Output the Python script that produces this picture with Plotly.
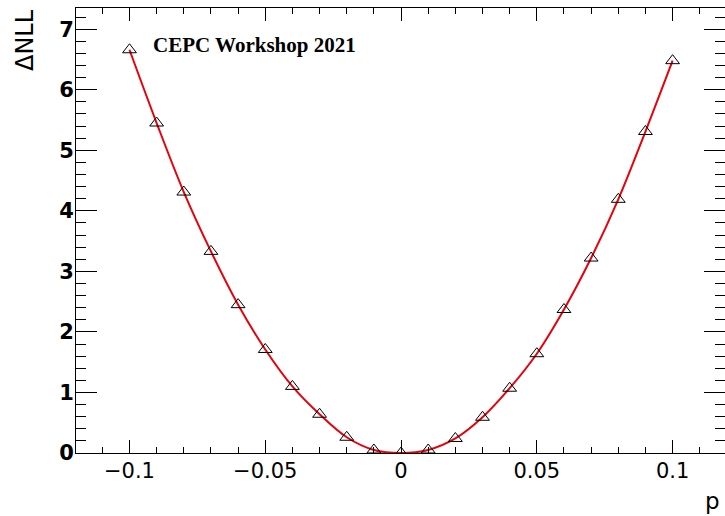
import plotly.graph_objects as go

# Data
p_values = [-0.10, -0.09, -0.08, -0.07, -0.06, -0.05, -0.04, -0.03, -0.02, -0.01,
            0.00, 0.01, 0.02, 0.03, 0.04, 0.05, 0.06, 0.07, 0.08, 0.09, 0.10]
dnll_values = [6.66, 5.45, 4.31, 3.33, 2.45, 1.71, 1.10, 0.64, 0.26, 0.05,
               0.00, 0.05, 0.24, 0.59, 1.07, 1.64, 2.37, 3.22, 4.19, 5.31, 6.48]

x_range = [-0.1197, 0.1193]
y_range = [0, 7.35]

fig = go.Figure()

# red fit curve (smooth line through the scan points)
fig.add_trace(go.Scatter(
    x=p_values, y=dnll_values, mode="lines",
    line=dict(color="#e8000b", width=2, shape="spline", smoothing=1.0),
    hoverinfo="skip", showlegend=False,
))

# scan points as open triangles
fig.add_trace(go.Scatter(
    x=p_values, y=dnll_values, mode="markers",
    marker=dict(symbol="triangle-up-open", size=12, color="black",
                line=dict(width=1, color="black")),
    showlegend=False,
))

fig.update_layout(
    width=725, height=516,
    margin=dict(l=76, r=0, t=8, b=63),
    paper_bgcolor="white", plot_bgcolor="white",
    xaxis=dict(
        range=x_range, tick0=0, dtick=0.05,
        ticks="inside", ticklen=13, tickwidth=1, tickcolor="black",
        showline=True, linecolor="black", linewidth=1, mirror="ticks",
        showgrid=False, zeroline=False,
        tickfont=dict(family="DejaVu Sans", size=21, color="black"),
        minor=dict(tick0=0, dtick=0.01, ticks="inside", ticklen=6,
                   tickwidth=1, tickcolor="black", showgrid=False),
        ticklabelstandoff=-1,
    ),
    yaxis=dict(
        range=y_range, tick0=0, dtick=1,
        ticks="inside", ticklen=21, tickwidth=1, tickcolor="black",
        showline=True, linecolor="black", linewidth=1, mirror="ticks",
        showgrid=False, zeroline=False,
        tickfont=dict(family="DejaVu Sans", size=21, color="black", weight="bold"),
        minor=dict(tick0=0, dtick=0.2, ticks="inside", ticklen=10,
                   tickwidth=1, tickcolor="black", showgrid=False),
        ticklabelstandoff=-3,
    ),
    annotations=[
        dict(text="CEPC Workshop 2021", xref="paper", yref="paper",
             x=(151 - 76) / 649, y=(453 - 31) / 445, xanchor="left", yanchor="top",
             showarrow=False,
             font=dict(family="Liberation Serif", size=21, color="black", weight="bold")),
        dict(text="ΔNLL", xref="paper", yref="paper",
             x=(41 - 76) / 649, y=(453 - 7) / 445, xanchor="right", yanchor="top",
             textangle=-90, showarrow=False,
             font=dict(family="DejaVu Sans", size=24, color="black")),
        dict(text="p", xref="paper", yref="paper",
             x=(703 - 76) / 649, y=(453 - 516) / 445, xanchor="left", yanchor="bottom",
             showarrow=False,
             font=dict(family="DejaVu Sans", size=23, color="black")),
    ],
)

fig.write_html("out.html")
